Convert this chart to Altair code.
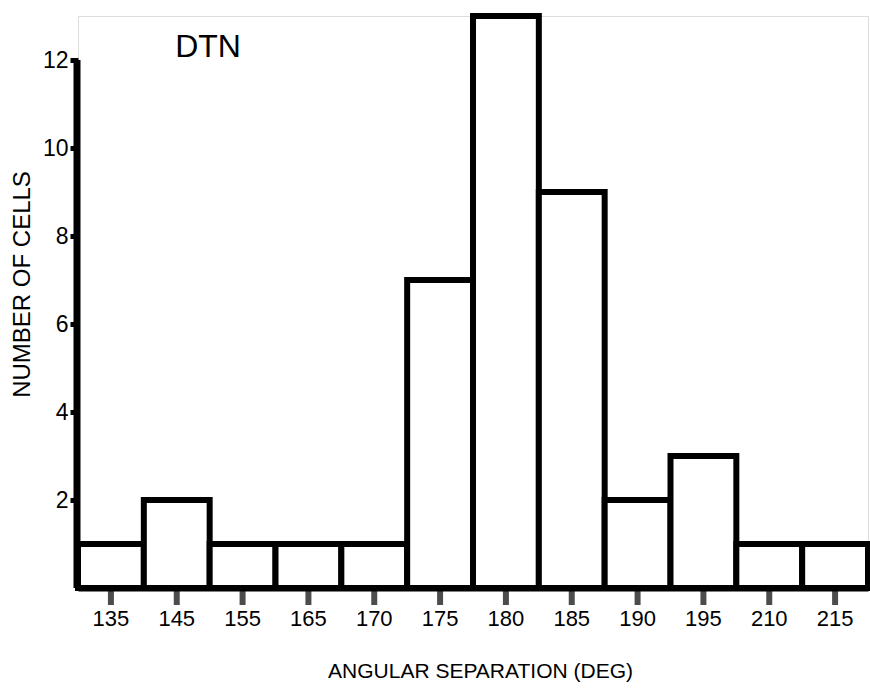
import altair as alt
import pandas as pd

categories = ["135", "145", "155", "165", "170", "175", "180", "185", "190", "195", "210", "215"]
counts = [1, 2, 1, 1, 1, 7, 13, 9, 2, 3, 1, 1]
y_ticks = [2, 4, 6, 8, 10, 12]

df = pd.DataFrame({"angle": categories, "n": counts})
FONT = "Liberation Sans"

x_scale = alt.Scale(paddingInner=0, paddingOuter=0)
x_enc = alt.X(
    "angle:N",
    sort=None,
    scale=x_scale,
    axis=alt.Axis(
        title="ANGULAR SEPARATION (DEG)",
        titleFont=FONT, titleFontSize=21, titleFontWeight="normal", titleColor="black",
        titleX=402, titleY=83, titleBaseline="middle", titleAlign="center",
        labelFont=FONT, labelFontSize=22, labelColor="black", labelAngle=0,
        labelPadding=20,
        domainColor="black", domainWidth=6,
        ticks=False,
    ),
)
y_scale = alt.Scale(domain=[0, 13], nice=False, zero=True)

bars = alt.Chart(df).mark_bar(fill="white", stroke="black", strokeWidth=6).encode(
    x=x_enc,
    y=alt.Y(
        "n:Q",
        scale=y_scale,
        axis=alt.Axis(
            values=y_ticks,
            title="NUMBER OF CELLS",
            titleFont=FONT, titleFontSize=24, titleFontWeight="normal", titleColor="black",
            titleX=-56, titleY=268, titleAngle=270, titleBaseline="middle", titleAlign="center",
            labelFont=FONT, labelFontSize=23, labelColor="black", labelPadding=2,
            domain=False, grid=False,
            tickColor="black", tickWidth=5, tickSize=8,
        ),
    ),
)

xticks = alt.Chart(df).mark_tick(color="black", thickness=6, size=14, orient="vertical").encode(
    x=alt.X("angle:N", sort=None, scale=x_scale, bandPosition=0.5),
    y=alt.value(582),
)

axis_df = pd.DataFrame({"y0": [0], "y1": [12]})
yline = alt.Chart(axis_df).mark_rule(color="black", strokeWidth=7).encode(
    x=alt.value(-1),
    y=alt.Y("y0:Q", scale=y_scale),
    y2="y1:Q",
)

label_df = pd.DataFrame({"t": ["DTN"]})
label = alt.Chart(label_df).mark_text(
    font=FONT, fontSize=32, color="black", align="center", baseline="middle"
).encode(x=alt.value(130), y=alt.value(31), text="t:N")

chart = alt.layer(bars, xticks, yline, label).properties(
    width=790, height=572,
    autosize=alt.AutoSizeParams(type="none"),
    padding={"left": 78, "top": 16, "right": 2, "bottom": 100},
).configure_view(stroke=None).configure(background="white")

chart.save("out.html", embed_options={"renderer": "svg", "actions": False})
